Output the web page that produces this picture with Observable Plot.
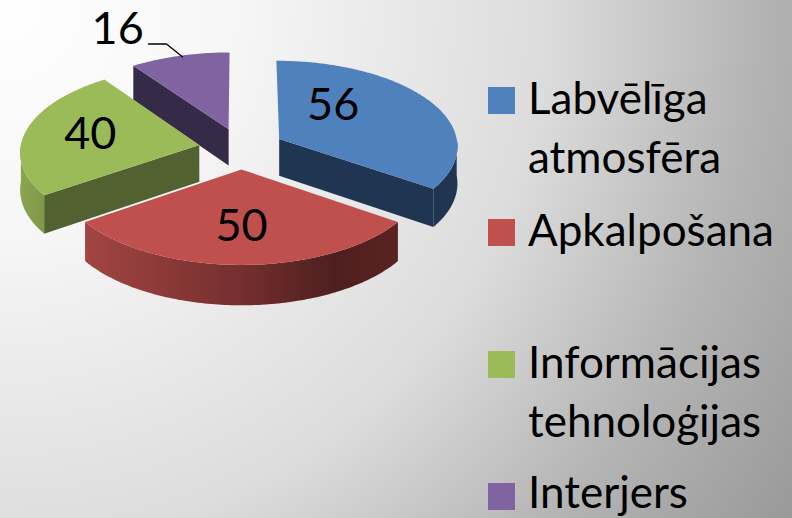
<!DOCTYPE html>
<html lang="lv">
<head>
<meta charset="utf-8">
<script src="https://cdn.jsdelivr.net/npm/d3@7"></script>
<script src="https://cdn.jsdelivr.net/npm/@observablehq/plot@0.6"></script>
<style>
html,body{margin:0;padding:0;width:792px;height:518px;overflow:hidden;}
body{background:radial-gradient(circle at 0 0,#ffffff 0%,#f6f6f6 25%,#dcdcdc 58%,#b4b4b4 80%,#999999 100%);
  font-family:Lato,sans-serif;color:#000;}
#wrap{display:flex;width:792px;height:518px;}
#chart{width:488px;flex:none;}
#chart svg{background:transparent;display:block;}
#legend{padding-top:68px;flex:none;width:304px;}
.entry{height:132px;display:flex;align-items:flex-start;font-size:44px;line-height:59px;white-space:pre-line;}
.entry:last-child{height:auto;line-height:53px;padding-top:1px;}
.sw{width:27px;height:27px;margin-top:19px;margin-right:13px;flex:none;}
.entry:last-child .sw{margin-top:18px;}
</style>
</head>
<body>
<div id="wrap"><div id="chart"></div><div id="legend"></div></div>
<script>
const categories = ["Labvēlīga\natmosfēra", "Apkalpošana", "Informācijas\ntehnoloģijas", "Interjers"];
const values = [56, 50, 40, 16];
const topColors = ["#4f81bd", "#c0504d", "#9bbb59", "#8064a2"];
const cutColors = ["#1f3552", "#5a2322", "#516130", "#352a47"];
const arcFills = ["#1f3552", "url(#redWall)", "url(#greenWall)", "#352a47"];
const drawOrder = [3, 2, 0, 1];
// where each number sits on its slice: [degrees clockwise from 12 o'clock, share of radius]
const labelPlaces = [[38, 0.52], [180, 0.61], [281, 0.63], [332, 1.51]];

const W = 488, H = 518, cx = 241, cy = 148, Rx = 179, Ry = 86;
const explode = 0.24, persp = 0.074, depth = 0.43;

const project = (X, Y, drop = 0) => {
  const s = 1 + persp * Y;
  return {x: X * s, y: (Y + drop) * s};
};
const slices = d3.pie().sort(null)(values).map((d, i) => {
  const mid = (d.startAngle + d.endAngle) / 2;
  const ox = explode * Math.sin(mid), oy = -explode * Math.cos(mid);
  const plane = (a, r = 1) => [ox + r * Math.sin(a), oy - r * Math.cos(a)];
  return {...d, i, ox, oy, plane};
});
const deg = Math.PI / 180;
const sweep = (a0, a1) => {
  const n = Math.max(2, Math.ceil(Math.abs(a1 - a0) / deg));
  return d3.range(n + 1).map(k => a0 + (a1 - a0) * k / n);
};

const marks = [];
const poly = (pts, fill) => marks.push(Plot.line(pts, {x: "x", y: "y", fill, stroke: "none", curve: "linear"}));

for (const i of drawOrder) {
  const s = slices[i];
  // outer rim, only where it faces the viewer
  const a0 = Math.max(s.startAngle, Math.PI / 2), a1 = Math.min(s.endAngle, 3 * Math.PI / 2);
  if (a1 > a0) {
    const arc = sweep(a0, a1).map(a => s.plane(a));
    poly([...arc.map(p => project(p[0], p[1])), ...arc.reverse().map(p => project(p[0], p[1], depth))], arcFills[i]);
  }
  // radial cut that faces the viewer
  if (i !== 1) {
    const a = i === 0 ? s.endAngle : s.startAngle;
    const p = s.plane(a);
    poly([project(s.ox, s.oy), project(p[0], p[1]), project(p[0], p[1], depth), project(s.ox, s.oy, depth)], cutColors[i]);
  }
  // top face
  const rim = sweep(s.startAngle, s.endAngle).map(a => s.plane(a));
  poly([project(s.ox, s.oy), ...rim.map(p => project(p[0], p[1])), project(s.ox, s.oy)], topColors[i]);
}

// leader for the small slice's number
const small = slices[3];
const touch = small.plane(343 * deg, 0.98);
const tp = project(touch[0], touch[1]);
marks.push(Plot.line([{x: tp.x - 0.19, y: tp.y - 0.15}, {x: tp.x - 0.09, y: tp.y - 0.15}, tp],
  {x: "x", y: "y", stroke: "#000", strokeWidth: 1.3, curve: "linear"}));

const labels = slices.map((s, i) => {
  const [ang, r] = labelPlaces[i];
  const p = s.plane(ang * deg, r);
  return {...project(p[0], p[1]), text: String(values[i])};
});
marks.push(Plot.text(labels, {x: "x", y: "y", text: "text", fontSize: 45, fontFamily: "Lato, sans-serif",
  fill: "#000", textAnchor: "middle", lineAnchor: "middle"}));

const plot = Plot.plot({
  width: W, height: H, margin: 0, style: {background: "transparent"},
  x: {domain: [-cx / Rx, (W - cx) / Rx], range: [0, W], axis: null},
  y: {domain: [-cy / Ry, (H - cy) / Ry], range: [0, H], axis: null},
  marks
});
d3.select(plot).insert("defs", ":first-child").html(`
  <linearGradient id="redWall" x1="0" x2="1" y1="0" y2="0">
    <stop offset="0" stop-color="#a24543"/><stop offset="0.5" stop-color="#742f2e"/>
    <stop offset="0.8" stop-color="#4e1f1e"/><stop offset="1" stop-color="#5a2322"/>
  </linearGradient>
  <linearGradient id="greenWall" x1="0" x2="1" y1="0" y2="0">
    <stop offset="0" stop-color="#8ba54f"/><stop offset="1" stop-color="#7e9848"/>
  </linearGradient>`);
document.getElementById("chart").append(plot);

const legend = d3.select("#legend").selectAll("div").data(categories).join("div").attr("class", "entry");
legend.append("div").attr("class", "sw").style("background", (d, i) => topColors[i]);
legend.append("div").text(d => d);
</script>
</body>
</html>
